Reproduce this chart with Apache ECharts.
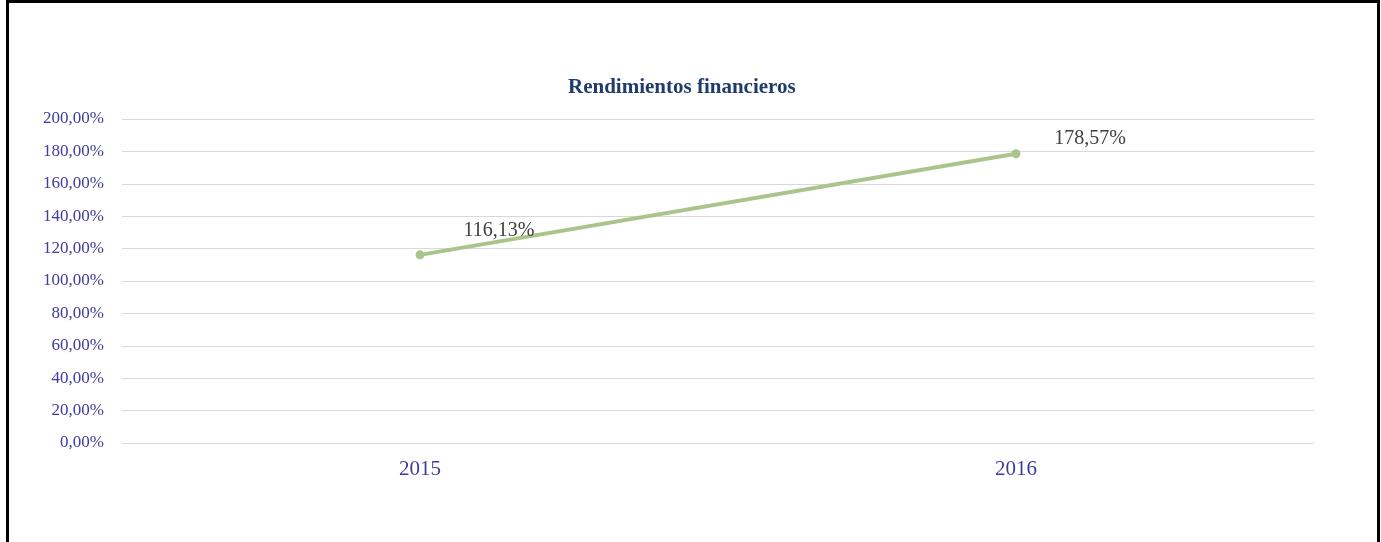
<!DOCTYPE html>
<html>
<head>
<meta charset="utf-8">
<script src="https://cdn.jsdelivr.net/npm/echarts@6/dist/echarts.min.js"></script>
<style>
  html, body { margin: 0; padding: 0; background: #fff; overflow: hidden; }
  #frame {
    position: absolute; left: 6px; top: 0; width: 1368px; height: 560px;
    border: 3px solid #000; box-sizing: content-box;
  }
  #chart { position: absolute; left: 0; top: 0; width: 1381px; height: 542px; }
</style>
</head>
<body>
<div id="frame"></div>
<div id="chart"></div>
<script>
const years = ['2015', '2016']
const rendimientos = [116.13, 178.57]
const yMin = 0
const yMax = 200
const yStep = 20

// label placement, per point (Excel drew them slightly differently)
const labelOffsets = [[79, -5], [74, 5]]

const fmt = (v) => v.toFixed(2).replace('.', ',') + '%'

const chart = echarts.init(document.getElementById('chart'))
chart.setOption({
  animation: false,
  textStyle: { fontFamily: 'Liberation Serif' },
  title: {
    text: 'Rendimientos financieros',
    left: 563,
    top: 72,
    textStyle: { fontFamily: 'Liberation Serif', fontSize: 21, fontWeight: 'bold', color: '#1f3c6b' },
  },
  grid: { left: 122, right: 67, top: 119, bottom: 99 },
  xAxis: {
    type: 'category',
    data: years,
    boundaryGap: true,
    axisLine: { show: false },
    axisTick: { show: false },
    axisLabel: { color: '#3d3d9e', fontSize: 21, margin: 16, fontFamily: 'Liberation Serif' },
  },
  yAxis: {
    type: 'value',
    min: yMin,
    max: yMax,
    interval: yStep,
    axisLine: { show: false },
    axisTick: { show: false },
    splitLine: { lineStyle: { color: '#d9d9d9', width: 1 } },
    axisLabel: { color: '#3d3d9e', fontSize: 17, margin: 18, formatter: fmt, fontFamily: 'Liberation Serif' },
  },
  series: [
    {
      type: 'line',
      data: rendimientos.map((v, i) => ({ value: v, label: { offset: labelOffsets[i] } })),
      symbol: 'circle',
      symbolSize: 9,
      lineStyle: { color: '#a9c58c', width: 4 },
      itemStyle: { color: '#a9c58c' },
      label: {
        show: true,
        position: 'top',
        formatter: (p) => fmt(p.value),
        color: '#404040',
        fontSize: 20,
        fontFamily: 'Liberation Serif',
      },
    },
  ],
})
</script>
</body>
</html>
